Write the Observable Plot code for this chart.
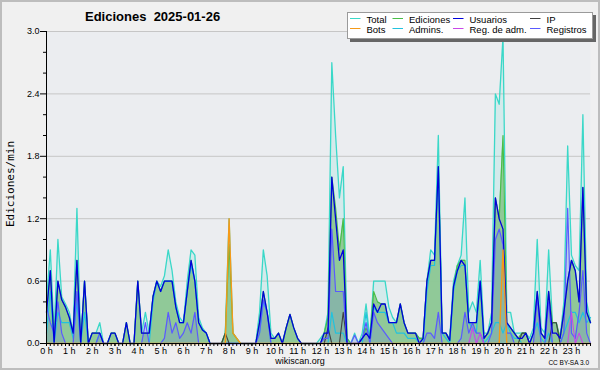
<!DOCTYPE html>
<html><head><meta charset="utf-8">
<script src="https://cdn.jsdelivr.net/npm/d3@7"></script>
<script src="https://cdn.jsdelivr.net/npm/@observablehq/plot@0.6"></script>
<style>
body{margin:0;background:#f0f0f0;}
#wrap{position:relative;width:600px;height:370px;background:#f0f0f0;overflow:hidden;}
#wrap svg{position:absolute;left:0;top:0;}
#border{position:absolute;left:0;top:0;width:600px;height:370px;box-sizing:border-box;border:2px solid #bdbdbd;pointer-events:none;}
</style>
</head><body>
<div id="wrap"><div id="chart"></div><div id="border"></div></div>
<script>
// 10-minute steps, 6 values per hour (0 h ... 23 h)
const total = [
 0.4,0.9,0.1,1.0,0.45,0.38,  0.3,0.1,1.3,0.0,0.6,0.0,
 0.1,0.1,0.2,0.0,0.0,0.1,    0.1,0.0,0.0,0.2,0.0,0.0,
 0.6,0.1,0.3,0.1,0.45,0.6,   0.55,0.65,0.9,0.7,0.4,0.25,
 0.2,0.6,0.9,0.85,0.25,0.15, 0.1,0.0,0.0,0.0,0.0,0.1,
 1.2,0.1,0.05,0,0,0,         0,0,0.3,0.9,0.65,0.1,
 0.05,0.1,0.0,0.15,0.28,0.15,0.05,0,0,0,0,0,
 0.05,0.1,0.3,2.7,2.0,1.4,   1.7,0.05,0,0.1,0,0.1,
 0.38,0.05,0.6,0.6,0.6,0.6,  0.35,0.25,0.2,0.38,0.2,0.1,
 0.1,0.1,0.05,0.05,0.6,0.9,  0.85,2.0,0.1,0.1,0.05,0.6,
 0.75,0.85,1.4,0.3,0.4,0.3,  0.8,0.1,0.1,0.3,2.4,2.3,
 2.95,0.3,0.3,0.1,0.1,0.1,   0.1,0.05,0.15,1.0,0.15,0.1,
 0.9,0.2,0.2,0.05,0.4,1.9,   0.85,0.75,0.7,2.2,0.4,0.2
];
const ediciones = [
 0.3,0.7,0.05,0.6,0.42,0.35, 0.25,0.1,0.8,0.0,0.6,0.0,
 0.1,0.1,0.1,0.0,0.0,0.1,    0.1,0,0,0.2,0,0,
 0.6,0.1,0.1,0.1,0.45,0.6,   0.5,0.6,0.6,0.6,0.35,0.2,
 0.2,0.5,0.8,0.6,0.2,0.13,   0.1,0,0,0,0,0.1,
 0.95,0.1,0.05,0,0,0,        0,0,0.2,0.5,0.3,0.05,
 0.05,0.1,0.0,0.15,0.28,0.15,0.05,0,0,0,0,0,
 0,0.1,0.25,1.6,1.3,0.9,     1.2,0.05,0,0,0,0.05,
 0.15,0.05,0.5,0.4,0.38,0.38,0.2,0.2,0.2,0.38,0.2,0.1,
 0.1,0.1,0.05,0.05,0.6,0.8,  0.8,1.7,0.1,0.1,0.03,0.55,
 0.75,0.8,0.8,0.2,0.2,0.2,   0.6,0.05,0.1,0.2,1.4,1.2,
 2.0,0.2,0.15,0.1,0.05,0.1,  0.1,0.0,0.1,0.5,0.1,0.05,
 0.5,0.2,0.2,0.05,0.3,0.6,   0.8,0.7,0.4,1.5,0.3,0.2
];
const usuarios = [
 0.3,0.7,0.0,0.6,0.42,0.35,  0.25,0.1,0.8,0.0,0.6,0.0,
 0.1,0.1,0.1,0.0,0.0,0.1,    0.1,0,0,0.2,0,0,
 0.6,0.1,0.1,0.1,0.45,0.6,   0.5,0.6,0.6,0.6,0.35,0.2,
 0.2,0.5,0.8,0.6,0.2,0.13,   0.1,0,0,0,0,0,
 0,0,0,0,0,0,                0,0,0.2,0.5,0.3,0.05,
 0.05,0.1,0,0.15,0.28,0.15,  0.05,0,0,0,0,0,
 0,0.1,0.1,1.6,1.2,0.8,      0.9,0,0,0,0,0.05,
 0.1,0.05,0.38,0.3,0.38,0.38,0.2,0.2,0.2,0.38,0.2,0.1,
 0.1,0.1,0,0.05,0.6,0.8,     0.8,1.7,0.1,0.1,0.03,0.55,
 0.7,0.8,0.75,0.2,0.2,0.2,   0.6,0.05,0.1,0.2,1.4,1.2,
 1.1,0.2,0.15,0.1,0.05,0.05, 0.1,0,0.1,0.5,0.1,0.05,
 0.5,0.1,0.1,0.05,0.3,0.6,   0.8,0.7,0.4,1.5,0.3,0.2
];
const ip = [
 0,0,0,0,0,0, 0,0,0,0,0,0, 0,0,0,0,0,0, 0,0,0,0,0,0,
 0,0,0,0,0,0, 0,0,0,0,0,0, 0,0,0,0,0,0, 0,0,0,0,0,0.1,
 0,0,0,0,0,0, 0,0,0,0,0,0, 0,0,0,0,0,0, 0,0,0,0,0,0,
 0,0,0.15,0,0,0, 0.3,0,0,0,0,0, 0,0,0,0,0,0, 0,0,0,0,0,0,
 0,0,0,0,0,0, 0,0,0,0,0,0, 0,0,0,0,0,0, 0,0,0,0,0,0,
 0,0,0,0,0,0.1, 0.1,0,0,0,0,0, 0,0.2,0.2,0,0,0, 0,0,0,0,0,0
];
const bots = [
 0,0,0,0,0,0, 0,0,0,0,0,0, 0,0,0,0,0,0, 0,0,0,0,0,0,
 0,0,0,0,0,0, 0,0,0,0,0,0, 0,0,0,0,0,0, 0,0,0,0,0,0,
 1.2,0.1,0.05,0,0,0, 0,0,0,0,0,0, 0,0,0,0,0,0, 0,0,0,0,0,0,
 0,0,0,0,0,0, 0,0,0,0,0,0, 0,0,0,0,0,0, 0,0,0,0,0,0,
 0,0,0,0,0,0, 0,0,0,0,0,0, 0,0,0,0,0,0, 0,0,0,0,0,0,
 0.9,0,0,0,0,0, 0,0,0,0,0,0, 0,0,0,0,0,0, 0,0,0,0,0,0
];
const admins = [
 0.1,0.5,0.0,0.3,0.2,0.2,    0.2,0.05,0.4,0.0,0.3,0.0,
 0,0,0.1,0,0,0,              0,0,0,0,0,0,
 0,0,0,0,0.4,0.6,            0.5,0.6,0.6,0.6,0.35,0.2,
 0.2,0.5,0.75,0.6,0.2,0.13,  0.1,0,0,0,0,0,
 0,0,0,0,0,0,                0,0,0.1,0.4,0.3,0,
 0,0,0,0,0,0,                0,0,0,0,0,0,
 0,0,0,0.3,0.1,0.1,          0.1,0,0,0,0,0,
 0.3,0,0.35,0.3,0.3,0.3,     0.2,0.2,0.1,0.1,0.1,0.05,
 0.05,0.05,0,0,0.5,0.75,     0.75,1.7,0.1,0.05,0,0.5,
 0.7,0.75,0.75,0.2,0.15,0.1, 0.6,0,0.05,0.1,0.2,0.2,
 0.1,0.2,0.1,0.05,0.05,0,    0,0,0.1,0.2,0.05,0,
 0.1,0,0,0,0.1,0.2,          0.3,0.3,0.2,0.3,0.2,0.25
];
const regAdm = [
 0,0,0,0,0,0, 0,0,0,0,0,0, 0,0,0,0,0,0, 0,0,0,0,0,0,
 0,0,0,0,0,0, 0,0,0,0,0,0, 0,0,0,0,0,0, 0,0,0,0,0,0,
 0,0,0,0,0,0, 0,0,0,0,0,0, 0,0,0,0,0,0, 0,0,0,0,0,0,
 0,0,0,0,0,0, 0,0,0,0,0,0, 0,0,0,0,0,0, 0,0,0,0,0,0,
 0,0,0,0,0,0, 0,0,0,0,0,0, 0,0,0,0,0.15,0, 0.1,0,0,0,0,0,
 0,0,0,0,0,0, 0,0,0,0,0,0, 0,0,0,0,0,0, 0.3,0,0.1,0,0,0
];
const registros = [
 0.35,0.2,0.1,0.4,0.1,0,     0,0,0.5,0,0,0,
 0,0,0.1,0,0,0,              0,0,0,0,0,0,
 0,0,0.2,0,0,0,              0,0.05,0.3,0.1,0.2,0.05,
 0.1,0.2,0.1,0.3,0,0,        0,0,0,0,0,0,
 0,0,0,0,0,0,                0,0,0.1,0.42,0.3,0,
 0,0,0,0,0,0,                0,0,0,0,0,0,
 0,0.05,0.05,1.1,0.5,0.5,    0.5,0,0,0.08,0,0.05,
 0.2,0,0.3,0.2,0.15,0.1,     0.05,0,0,0,0,0,
 0,0,0,0,0.1,0.1,            0.05,0.3,0,0,0,0,
 0,0.05,0.3,0.1,0.2,0.1,     0.1,0,0,0.1,1.0,1.1,
 0.95,0.1,0.1,0,0,0,         0,0,0,0.45,0,0,
 0.4,0,0,0,0.1,1.3,          0.1,0.05,0.3,0.7,0.1,0
];
const hourTicks = d3.range(24);
const yMajor = [0, 0.6, 1.2, 1.8, 2.4, 3.0];
const yMinor = [0.2,0.4,0.8,1.0,1.4,1.6,2.0,2.2,2.6,2.8];
const legendLabels = [["Total","Ediciones","Usuarios","IP"],["Bots","Admins.","Reg. de adm.","Registros"]];

const steps = total.map((_, i) => i / 6);
const rows = steps.map((h, i) => ({h, total: total[i], ed: ediciones[i], usuarios: usuarios[i], ip: ip[i],
  bots: bots[i], admins: admins[i], regadm: regAdm[i], registros: registros[i]}));

const C = {total:"#3ad8c8", ed:"#48be48", usuarios:"#0000dc", ip:"#404040", bots:"#f59a18",
  admins:"#22c2de", regadm:"#c848e8", registros:"#5a5aff"};

const lineDefs = [
  ["admins", 1.2], ["ip", 1.1], ["registros", 1.2], ["usuarios", 1.3], ["bots", 1.4], ["regadm", 1.1]
];

const chart = Plot.plot({
  width: 600, height: 370,
  marginLeft: 46, marginRight: 10, marginTop: 31, marginBottom: 27,
  x: {domain: [0, steps[steps.length - 1]]},
  y: {domain: [0, 3]},
  style: {fontFamily: "'Liberation Sans', Arial, sans-serif", fontSize: "9px", background: "transparent", color: "#000"},
  marks: [
    Plot.frame({fill: "#ebedf0", stroke: "none"}),
    Plot.ruleY(yMajor.slice(1), {stroke: "#c6c6c6", strokeWidth: 1}),
    Plot.areaY(rows, {x: "h", y: "total", fill: C.total, fillOpacity: 0.13}),
    Plot.areaY(rows, {x: "h", y: "ed", fill: "#8cc793", fillOpacity: 0.95}),
    Plot.areaY(rows, {x: "h", y: "registros", fill: "#6a70e0", fillOpacity: 0.22}),
    Plot.lineY(rows, {x: "h", y: "total", stroke: C.total, strokeWidth: 1.3}),
    Plot.lineY(rows, {x: "h", y: "ed", stroke: C.ed, strokeWidth: 1.2}),
    ...lineDefs.map(([k, w]) => Plot.lineY(rows, {x: "h", y: k, stroke: C[k], strokeWidth: w})),
    Plot.ruleX([0], {stroke: "#000", strokeWidth: 1}),
    Plot.ruleY([0], {stroke: "#000", strokeWidth: 1}),
    Plot.axisY({ticks: yMajor, tickFormat: d => d.toFixed(1), tickSize: 6, tickPadding: 1, label: null, fontSize: 9}),
    Plot.axisY({ticks: yMinor, tickFormat: () => "", tickSize: 3, label: null}),
    Plot.axisX({ticks: hourTicks, tickFormat: d => d + " h", tickSize: 3, tickPadding: 1, label: null, fontSize: 9}),
    Plot.axisX({ticks: steps, tickFormat: () => "", tickSize: 3, label: null})
  ]
});
document.getElementById("chart").appendChild(chart);

// overlay: title, legend, axis label, footer
const ov = d3.select("#chart").append("svg").attr("width", 600).attr("height", 370)
  .style("font-family", "'Liberation Sans', Arial, sans-serif");
ov.append("text").attr("x", 85).attr("y", 21).attr("font-size", 13).attr("font-weight", "bold")
  .style("white-space", "pre").text("Ediciones  2025-01-26");
ov.append("text").attr("transform", "translate(13.5,184) rotate(-90)").attr("text-anchor", "middle")
  .attr("font-family", "'DejaVu Sans Mono', monospace").attr("font-size", 11).text("Ediciones/min");
ov.append("text").attr("x", 300).attr("y", 364).attr("text-anchor", "middle").attr("font-size", 9).text("wikiscan.org");
ov.append("text").attr("x", 589).attr("y", 365).attr("text-anchor", "end").attr("font-size", 6.5).text("CC BY-SA 3.0");

const lg = ov.append("g");
lg.append("rect").attr("x", 350).attr("y", 15).attr("width", 246).attr("height", 27).attr("fill", "#666");
lg.append("rect").attr("x", 347.5).attr("y", 12.5).attr("width", 245).attr("height", 26).attr("fill", "#fff").attr("stroke", "#9a9a9a");
const colX = [350, 392.5, 453, 530];
const legendColors = [[C.total, C.ed, C.usuarios, C.ip], [C.bots, C.admins, C.regadm, C.registros]];
legendLabels.forEach((row, r) => row.forEach((lab, c) => {
  const y = 22.5 + r * 10;
  lg.append("line").attr("x1", colX[c]).attr("x2", colX[c] + 10.5).attr("y1", y - 4).attr("y2", y - 4)
    .attr("stroke", legendColors[r][c]).attr("stroke-width", 1);
  lg.append("text").attr("x", colX[c] + 16.5).attr("y", y).attr("font-size", 9.5).text(lab);
}));
</script>
</body></html>
